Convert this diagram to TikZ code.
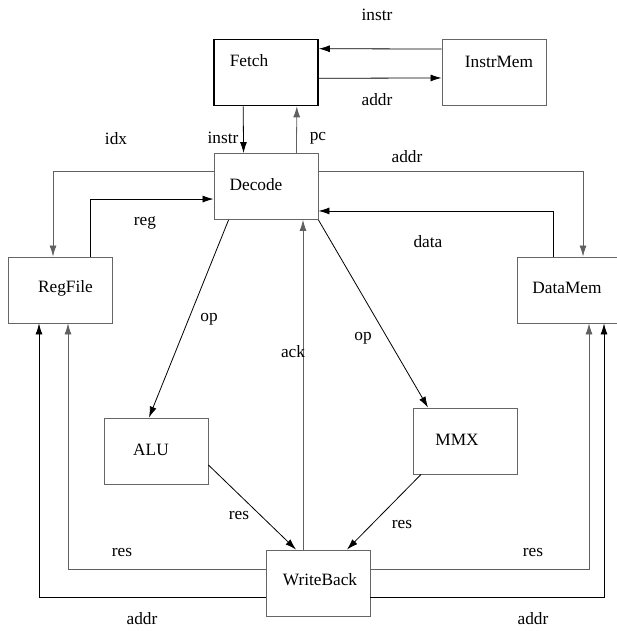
\documentclass[tikz,border=0pt]{standalone}
\usepackage{fontspec}
\setmainfont{Liberation Serif}
\usetikzlibrary{arrows.meta}

\tikzset{
  blk/.style={draw=gray!80!black, line width=0.9pt, minimum width=104pt, minimum height=66pt, inner sep=0pt},
  wire/.style={draw=black, line width=0.8pt, -{Latex[length=11pt,width=7pt]}},
  gwire/.style={wire, draw=gray!75!black},
}

\begin{document}
\begin{tikzpicture}[x=1pt, y=-1pt, every node/.style={font=\fontsize{17.3}{20}\selectfont}]
\useasboundingbox (0,0) rectangle (617,631);

% blocks
\node[blk, draw=black, line width=1.6pt, label={[xshift=-17pt,yshift=11.5pt]center:Fetch}] (fetch) at (266,72.5) {};
\node[blk, label={[xshift=5pt,yshift=11pt]center:InstrMem}] (instrmem) at (494,72.5) {};
\node[blk, label={[xshift=-10pt,yshift=2pt]center:Decode}] (decode) at (266,186.5) {};
\node[blk, label={[xshift=5pt,yshift=2pt]center:RegFile}] (regfile) at (60.5,290) {};
\node[blk, label={[xshift=-2pt,yshift=2pt]center:DataMem}] (datamem) at (569,290) {};
\node[blk, label={[xshift=-5pt,yshift=1.5pt]center:ALU}] (alu) at (156,451) {};
\node[blk, label={[xshift=-8pt,yshift=1pt]center:MMX}] (mmx) at (465,441) {};
\node[blk, label={[xshift=2pt,yshift=3pt]center:WriteBack}] (writeback) at (318,583) {};

% fetch / memory
\draw[wire] ([yshift=-10pt]instrmem.north west) -- ([yshift=-10pt]fetch.north east);
\draw[wire] ([yshift=28pt]fetch.south east) -- ([yshift=28pt]instrmem.south west);
\draw[wire] ([xshift=30pt]fetch.south west) -- ([xshift=30pt]decode.north west);
\draw[gwire] ([xshift=-22pt]decode.north east) -- ([xshift=-22pt]fetch.south east);

% decode to register file and data memory
\draw[gwire] ([yshift=-18pt]decode.north west) -| ([xshift=-7.5pt]regfile.north);
\draw[wire] ([xshift=29.5pt]regfile.north) |- ([yshift=-46pt]decode.north west);
\draw[gwire] ([yshift=-18pt]decode.north east) -| ([xshift=14pt]datamem.north);
\draw[wire] ([xshift=-16pt]datamem.north) |- ([yshift=9pt]decode.south east);

% execute
\draw[wire] ([xshift=15pt]decode.south west) -- ([xshift=-7pt]alu.north);
\draw[wire] (decode.south east) -- ([xshift=-37pt]mmx.north);
\draw[gwire] ([xshift=-15pt]writeback.north) -- ([xshift=-15pt]writeback.north |- decode.south);
\draw[wire] ([yshift=-14pt]alu.east) -- ([xshift=-22pt]writeback.north);
\draw[wire] ([xshift=-44pt]mmx.south) -- ([xshift=29pt]writeback.north);

% write back
\draw[gwire] ([yshift=14pt]writeback.west) -| ([xshift=7.5pt]regfile.south);
\draw[wire] ([yshift=-14pt]writeback.west) -| ([xshift=-21.5pt]regfile.south);
\draw[gwire] ([yshift=14pt]writeback.east) -| ([xshift=20pt]datamem.south);
\draw[wire] ([yshift=-14pt]writeback.east) -| ([xshift=35pt]datamem.south);

% signal names
\node (tinstr) at (377,15) {instr};
\node (taddr) at (377,100) {addr};
\node (dinstr) at (223,138) {instr};
\node (dpc) at (318,138) {pc};
\node (daddr) at (407,157) {addr};
\node (didx) at (116,139) {idx};
\node (dreg) at (145,223) {reg};
\node (ddata) at (428,242) {data};
\node (aop) at (209,319) {op};
\node (mop) at (363,338) {op};
\node (wack) at (293,352) {ack};
\node (ares) at (239,516) {res};
\node (mres) at (402,525) {res};
\node (rres) at (122,553) {res};
\node (raddr) at (142,619) {addr};
\node (dmres) at (533,553) {res};
\node (dmaddr) at (533,619) {addr};
\end{tikzpicture}
\end{document}
